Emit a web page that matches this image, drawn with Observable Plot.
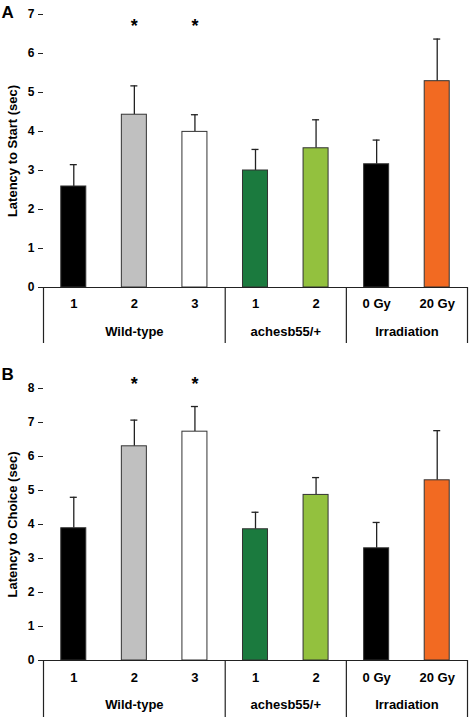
<!DOCTYPE html>
<html>
<head>
<meta charset="utf-8">
<script src="https://cdn.jsdelivr.net/npm/d3@7"></script>
<script src="https://cdn.jsdelivr.net/npm/@observablehq/plot@0.6"></script>
<style>
  html, body { margin: 0; padding: 0; background: #fff; }
  #chart svg { display: block; }
</style>
</head>
<body>
<div id="chart"></div>
<script>
// ---- data ----
const keys = ["WT1", "WT2", "WT3", "A1", "A2", "G0", "G20"];
const tickLabels = ["1", "2", "3", "1", "2", "0 Gy", "20 Gy"];
const barColors = ["#000000", "#c0c0c0", "#ffffff", "#1b7a3e", "#93c13e", "#000000", "#f26a22"];
const signif = ["", "*", "*", "", "", "", ""];
const groupNames = ["Wild-type", "achesb55/+", "Irradiation"];
const groupMembers = [["WT1", "WT2", "WT3"], ["A1", "A2"], ["G0", "G20"]];

const startMean = [2.59, 4.43, 3.99, 3.00, 3.57, 3.16, 5.29];
const startSem  = [0.56, 0.74, 0.44, 0.54, 0.73, 0.62, 1.08];
const choiceMean = [3.89, 6.30, 6.73, 3.86, 4.87, 3.30, 5.30];
const choiceSem  = [0.91, 0.77, 0.74, 0.50, 0.51, 0.76, 1.46];

const startTicks = [0, 1, 2, 3, 4, 5, 6, 7];
const choiceTicks = [0, 1, 2, 3, 4, 5, 6, 7, 8];

// ---- layout ----
const W = 473, ML = 43, MR = 6;
const step = (W - ML - MR) / keys.length;
const pad = 0.587;
const font = "'Liberation Sans', Arial, Helvetica, sans-serif";

function panel({mean, sem, ticks, label, letter, height, marginTop, marginBottom, ext, letterDy, starDy, tickDy, groupDy}) {
  const rows = keys.map((k, i) => ({key: k, label: tickLabels[i], color: barColors[i], mean: mean[i], top: mean[i] + sem[i], sig: signif[i]}));
  const frameH = height - marginTop - marginBottom;
  const groupMarks = groupNames.map((g, gi) => {
    const members = groupMembers[gi];
    return Plot.text([g], {
      x: () => members[0], frameAnchor: "bottom",
      dx: (members.length - 1) * step / 2, dy: groupDy,
      text: d => d, fontSize: 13, fontWeight: "bold"
    });
  });
  return Plot.plot({
    width: W, height, marginLeft: ML, marginRight: MR, marginTop, marginBottom,
    style: {fontFamily: font, fontWeight: "bold", fontSize: "12px", color: "#000", background: "#fff", overflow: "visible"},
    x: {type: "band", domain: keys, paddingInner: pad, paddingOuter: pad / 2, round: false, axis: null},
    y: {domain: [0, ticks[ticks.length - 1]], axis: null},
    marks: [
      Plot.ruleX(rows, {x: "key", y1: "mean", y2: "top", stroke: "#222", strokeWidth: 1.3}),
      Plot.tickY(rows, {x: "key", y: "top", stroke: "#222", strokeWidth: 1.3, insetLeft: 9, insetRight: 9}),
      Plot.barY(rows, {x: "key", y: "mean", fill: "color", stroke: "#333", strokeWidth: 1}),
      Plot.ruleY([0], {stroke: "#222", strokeWidth: 1.2}),
      Plot.axisY({ticks, tickFormat: d => String(d), tickSize: 5, tickPadding: 4, fontSize: 12, fontWeight: "bold",
        stroke: "#222", label: null, line: true}),
      Plot.text([label], {text: d => d, frameAnchor: "left", textAnchor: "middle", dx: -31, rotate: -90, fontSize: 13, fontWeight: "bold"}),
      Plot.ruleX([keys[0]], {x: d => d, dx: -step / 2, insetTop: frameH, insetBottom: -ext, stroke: "#222", strokeWidth: 1.2}),
      Plot.ruleX(groupMembers.map(m => m[m.length - 1]), {x: d => d, dx: step / 2, insetTop: frameH, insetBottom: -ext, stroke: "#222", strokeWidth: 1.2}),
      Plot.text(rows, {x: "key", text: "label", frameAnchor: "bottom", dy: tickDy, fontSize: 13, fontWeight: "bold"}),
      ...groupMarks,
      Plot.text(rows, {x: "key", text: "sig", frameAnchor: "top", dy: starDy, fontSize: 18, fontWeight: "bold"}),
      Plot.text([letter], {text: d => d, frameAnchor: "top-left", dx: -42, dy: letterDy, fontSize: 17, fontWeight: "bold"})
    ]
  });
}

const chart = document.getElementById("chart");
chart.append(panel({
  mean: startMean, sem: startSem, ticks: startTicks, label: "Latency to Start (sec)", letter: "A",
  height: 352, marginTop: 14, marginBottom: 65, ext: 56, letterDy: -9, starDy: 5, tickDy: 20, groupDy: 48
}));
chart.append(panel({
  mean: choiceMean, sem: choiceSem, ticks: choiceTicks, label: "Latency to Choice (sec)", letter: "B",
  height: 366, marginTop: 36, marginBottom: 58, ext: 57, letterDy: -21, starDy: -11, tickDy: 21, groupDy: 48
}));
</script>
</body>
</html>
